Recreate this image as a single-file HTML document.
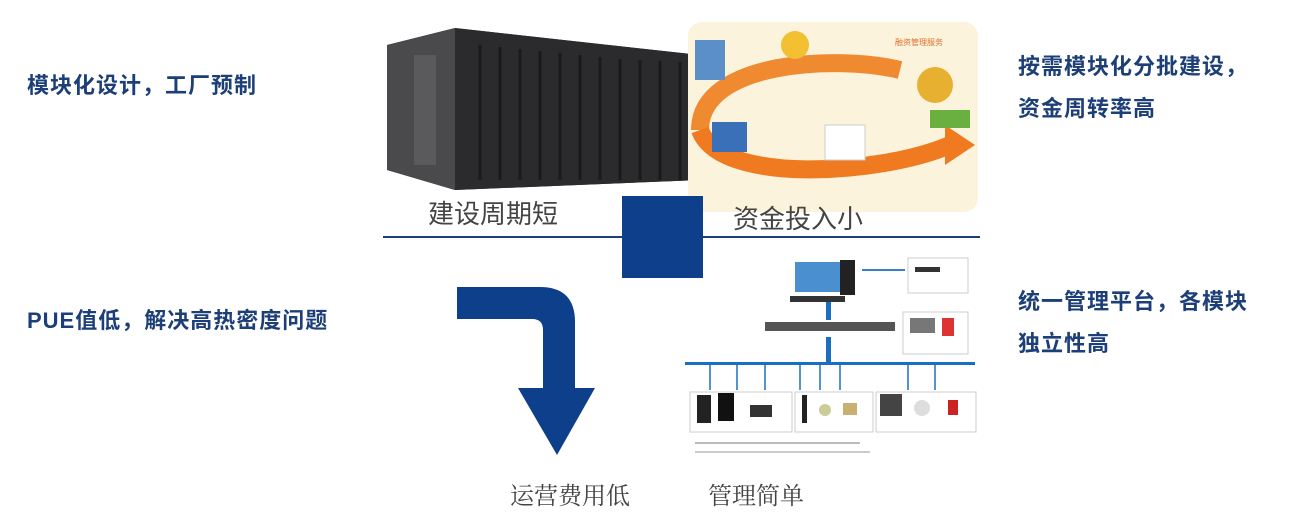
<!DOCTYPE html>
<html><head><meta charset="utf-8"><style>
body{margin:0;width:1309px;height:526px;background:#fff;position:relative;overflow:hidden;font-family:"Liberation Sans","Noto Sans CJK SC",sans-serif}
.b{position:absolute;color:#1d3f78;font-weight:bold;font-size:22px;letter-spacing:1px;white-space:nowrap}
.g{position:absolute;color:#444;font-size:26px;white-space:nowrap;font-family:"Noto Sans CJK SC",sans-serif}
.a{position:absolute}
</style></head><body>
<div class="b" style="left:27px;top:68px">模块化设计，工厂预制</div>
<div class="b" style="left:27px;top:303px">PUE值低，解决高热密度问题</div>
<div class="b" style="left:1018px;top:49px">按需模块化分批建设，</div>
<div class="b" style="left:1018px;top:91px">资金周转率高</div>
<div class="b" style="left:1018px;top:284px">统一管理平台，各模块</div>
<div class="b" style="left:1018px;top:326px">独立性高</div>

<svg class="a" style="left:0;top:0" width="1309" height="526">
<polygon points="387,45 455,28 700,55 700,180 455,190 387,170" fill="#3a3a3c"/>
<polygon points="455,28 700,55 700,180 455,190" fill="#2b2b2d"/>
<polygon points="387,45 455,28 455,190 387,170" fill="#4a4a4c"/>
<rect x="414" y="55" width="22" height="110" fill="#5a5a5c"/>
<g stroke="#1a1a1a" stroke-width="3">
<line x1="480" y1="45" x2="480" y2="180"/><line x1="500" y1="47" x2="500" y2="180"/><line x1="520" y1="49" x2="520" y2="180"/><line x1="540" y1="51" x2="540" y2="180"/><line x1="560" y1="53" x2="560" y2="180"/><line x1="580" y1="55" x2="580" y2="180"/><line x1="600" y1="57" x2="600" y2="180"/><line x1="620" y1="59" x2="620" y2="180"/><line x1="640" y1="60" x2="640" y2="180"/><line x1="660" y1="61" x2="660" y2="180"/><line x1="680" y1="62" x2="680" y2="180"/>
</g>
<rect x="688" y="22" width="290" height="190" rx="14" fill="#fbf3dc"/>
<path d="M700,130 C700,60 840,55 900,70" stroke="#f08a30" stroke-width="18" fill="none"/>
<path d="M700,130 C720,185 880,175 950,145" stroke="#f07a20" stroke-width="18" fill="none"/>
<polygon points="945,125 975,145 945,165" fill="#f07a20"/>
<rect x="695" y="40" width="30" height="40" fill="#5b8fc8"/>
<circle cx="795" cy="45" r="14" fill="#f2c030"/>
<circle cx="935" cy="85" r="18" fill="#e8b030"/>
<rect x="930" y="110" width="40" height="18" fill="#6ab040"/>
<rect x="825" y="125" width="40" height="35" fill="#fff" stroke="#ccc"/>
<rect x="712" y="122" width="35" height="30" fill="#3a70b8"/>
<text x="895" y="45" font-size="8" fill="#e07030">融资管理服务</text>
<line x1="383" y1="237" x2="980" y2="237" stroke="#1d3f78" stroke-width="2"/>
<rect x="622" y="196" width="81" height="82" fill="#0d3f8a"/>
<path d="M457,287 H540 Q575,287 575,322 V388 H595 L557,455 L518,388 H543 V330 Q543,319 532,319 H457 Z" fill="#0d3f8a"/>
<rect x="795" y="262" width="45" height="30" fill="#4a90d0"/><rect x="840" y="260" width="15" height="35" fill="#222"/>
<rect x="790" y="296" width="55" height="6" fill="#333"/>
<line x1="862" y1="270" x2="905" y2="270" stroke="#3a80c8" stroke-width="2"/>
<rect x="908" y="258" width="60" height="35" fill="#fff" stroke="#ccc"/>
<rect x="915" y="267" width="25" height="5" fill="#333"/>
<rect x="765" y="322" width="130" height="9" fill="#555"/>
<rect x="826" y="302" width="5" height="18" fill="#1a6fc0"/><rect x="826" y="337" width="5" height="25" fill="#1a6fc0"/>
<rect x="903" y="312" width="65" height="42" fill="#fff" stroke="#ccc"/>
<rect x="910" y="318" width="25" height="15" fill="#777"/><rect x="942" y="318" width="12" height="18" fill="#d33"/>
<rect x="685" y="362" width="290" height="3" fill="#1a6fc0"/>
<g stroke="#1a6fc0" stroke-width="1.5"><line x1="710" y1="365" x2="710" y2="390"/><line x1="737" y1="365" x2="737" y2="390"/><line x1="765" y1="365" x2="765" y2="390"/><line x1="800" y1="365" x2="800" y2="390"/><line x1="820" y1="365" x2="820" y2="390"/><line x1="840" y1="365" x2="840" y2="390"/><line x1="908" y1="365" x2="908" y2="390"/><line x1="935" y1="365" x2="935" y2="390"/></g>
<rect x="690" y="392" width="102" height="40" fill="#fff" stroke="#ccc"/>
<rect x="795" y="392" width="78" height="40" fill="#fff" stroke="#ccc"/>
<rect x="876" y="392" width="100" height="40" fill="#fff" stroke="#ccc"/>
<rect x="697" y="395" width="14" height="28" fill="#222"/><rect x="718" y="393" width="16" height="28" fill="#111"/><rect x="750" y="405" width="22" height="12" fill="#333"/>
<rect x="802" y="395" width="5" height="28" fill="#222"/><circle cx="825" cy="410" r="6" fill="#cc9"/><rect x="843" y="403" width="14" height="12" fill="#c8b070"/>
<rect x="880" y="394" width="22" height="22" fill="#444"/><circle cx="922" cy="408" r="8" fill="#ddd"/><rect x="948" y="400" width="10" height="15" fill="#c22"/>
<line x1="695" y1="443" x2="860" y2="443" stroke="#bbb" stroke-width="2"/><line x1="695" y1="452" x2="870" y2="452" stroke="#ccc" stroke-width="2"/>
</svg>

<div class="g" style="left:428px;top:194px">建设周期短</div>
<div class="g" style="left:733px;top:199px">资金投入小</div>
<div class="g" style="left:510px;top:476px;font-size:24px;font-family:'Noto Serif CJK SC',serif">运营费用低</div>
<div class="g" style="left:708px;top:476px;font-size:24px;font-family:'Noto Serif CJK SC',serif">管理简单</div>
</body></html>
